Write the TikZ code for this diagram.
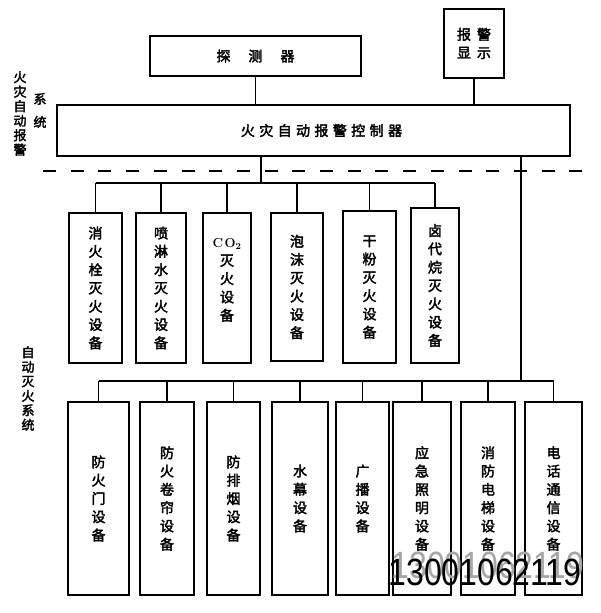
\documentclass[tikz,border=0pt]{standalone}
\usepackage{fontspec}
\newfontfamily\cjk[FakeBold=2.5]{Noto Sans CJK SC}
\newfontfamily\wmfont{Liberation Sans}
\usetikzlibrary{calc}
\newcommand\mkbox[6]{%
  \node[box, minimum width={(#4-#2)*1pt}, minimum height={(#5-#3)*1pt}] (#1) at ({(#2+#4)/2},{(#3+#5)/2}) {#6};}
\begin{document}
\begin{tikzpicture}[x=1pt,y=-1pt,
  box/.style={draw, line width=1.2pt, inner sep=0pt, outer sep=0pt, align=center,
              font=\cjk\fontsize{14}{18.3}\selectfont},
  conn/.style={line width=1.2pt},
  side/.style={align=center, inner sep=0pt, font=\cjk\fontsize{13}{14.5}\selectfont},
  wm/.style={inner sep=0pt, font=\wmfont\fontsize{38}{38}\selectfont}]
\useasboundingbox[fill=white] (0,0) rectangle (600,613);

% top part
\mkbox{det}{150}{36}{361}{76}{探\kern18pt 测\kern18pt 器}
\mkbox{alarm}{444}{9}{504}{78}{\fontsize{14}{22}\selectfont 报\kern6pt 警\\显\kern6pt 示}
\mkbox{ctrl}{57}{105}{570}{156}{\kern16pt 火\kern4.4pt 灾\kern4.4pt 自\kern4.4pt 动\kern4.4pt 报\kern4.4pt 警\kern4.4pt 控\kern4.4pt 制\kern4.4pt 器}

% side labels
\node[side] (lab1) at (20,113.5) {火\\灾\\自\\动\\报\\警};
\node[side, font=\cjk\fontsize{13}{23}\selectfont] (lab2) at (40,110.5) {系\\统};
\node[side] (lab3) at (28,388.5) {自\\动\\灭\\火\\系\\统};

% dashed separator
\coordinate (dl) at (43,171);
\coordinate (dr) at (583,171);
\draw[line width=1.8pt, dash pattern=on 13pt off 14.7pt] (dl) -- (dr);

% upper row
\mkbox{u1}{69}{213}{122}{363}{消\\火\\栓\\灭\\火\\设\\备}
\mkbox{u2}{136}{213}{186}{363}{喷\\淋\\水\\灭\\火\\设\\备}
\mkbox{u3}{203}{213}{251}{363}{}
\node[inner sep=0pt, align=center, font=\cjk\fontsize{14}{18.3}\selectfont] (u3t) at (227,280)
  {{\normalfont\bfseries\fontsize{13}{14}\selectfont C\kern1.5pt O\textsubscript{2}}\\灭\\火\\设\\备};
\mkbox{u4}{271}{213}{323}{361}{泡\\沫\\灭\\火\\设\\备}
\mkbox{u5}{343}{211}{396}{363}{干\\粉\\灭\\火\\设\\备}
\mkbox{u6}{411}{208}{459}{363}{\fontsize{14}{17.7}\selectfont 卤\\代\\烷\\灭\\火\\设\\备}

% lower row
\mkbox{l1}{68}{402}{129}{595}{\fontsize{14}{18.7}\selectfont 防\\火\\门\\设\\备}
\mkbox{l2}{140}{402}{194}{595}{\fontsize{14}{18.7}\selectfont 防\\火\\卷\\帘\\设\\备}
\mkbox{l3}{207}{402}{260}{595}{\fontsize{14}{18.7}\selectfont 防\\排\\烟\\设\\备}
\mkbox{l4}{272}{402}{328}{595}{\fontsize{14}{18.7}\selectfont 水\\幕\\设\\备}
\mkbox{l5}{336}{402}{389}{595}{\fontsize{14}{18.7}\selectfont 广\\播\\设\\备}
\mkbox{l6}{393}{402}{451}{595}{\fontsize{14}{18.7}\selectfont 应\\急\\照\\明\\设\\备}
\mkbox{l7}{461}{402}{515}{595}{\fontsize{14}{18.7}\selectfont 消\\防\\电\\梯\\设\\备}
\mkbox{l8}{525}{402}{582}{595}{\fontsize{14}{18.7}\selectfont 电\\话\\通\\信\\设\\备}

% connectors
\draw[conn] (det.south) -- (det.south |- ctrl.north);
\draw[conn] (alarm.south) -- (alarm.south |- ctrl.north);
\coordinate (busA) at (261,183);
\draw[conn] (busA |- ctrl.south) -- (busA);
\draw[conn] (u1.north |- busA) -- (u6.north |- busA);
\foreach \n in {u1,u2,u3,u4,u5,u6}{\draw[conn] (\n.north |- busA) -- (\n.north);}
\coordinate (busB) at (521,381);
\draw[conn] (busB |- ctrl.south) -- (busB);
\draw[conn] (l1.north |- busB) -- (l8.north |- busB);
\foreach \n in {l1,l2,l3,l4,l5,l6,l7,l8}{\draw[conn] (\n.north |- busB) -- (\n.north);}

% watermark
\node[wm, text=black!35] (wmg) at (488,565) {\scalebox{0.84}[1]{13001062119}};
\node[wm] (wmk) at (485,572) {\scalebox{0.84}[1]{13001062119}};
\end{tikzpicture}
\end{document}
